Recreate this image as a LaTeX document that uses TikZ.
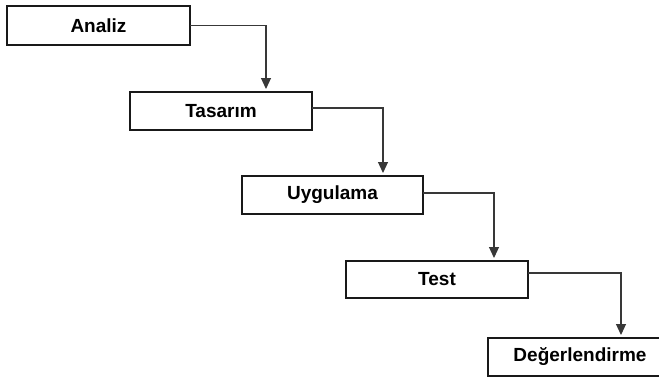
\documentclass[tikz,border=0pt]{standalone}
\usepackage{fontspec}
\setmainfont{Liberation Sans}
\usetikzlibrary{arrows.meta}
\begin{document}
\begin{tikzpicture}[x=1pt,y=-1pt,
  phase/.style={draw=black!90,line width=1.3pt,rectangle,inner sep=0pt,outer sep=0pt,
    minimum width=182pt,minimum height=38pt,fill=white,
    font=\fontsize{19}{22}\selectfont\bfseries},
  conn/.style={draw=black!78,line width=1.1pt,-{Triangle[length=11pt,width=10pt]},shorten >=3pt}]
  \useasboundingbox (0,0) rectangle (659,378);
  % phases of the process
  \node[phase,minimum width=183pt,minimum height=39pt] (an) at (98.5,25.5) {Analiz};
  \node[phase] (ta) at (221,111) {Tasarım};
  \node[phase,minimum width=181pt] (uy) at (332.5,195) {Uygulama};
  \node[phase,minimum height=37pt] (te) at (437,279.5) {Test};
  \node[phase,minimum width=184pt] (de) at (580,357) {Değerlendirme};
  % bends of the connectors
  \coordinate (k1) at (266,25.5);
  \coordinate (k2) at (383,108);
  \coordinate (k3) at (494,193);
  \coordinate (k4) at (621,273);
  \draw[conn] (an.east |- k1) -| (k1 |- ta.north);
  \draw[conn] (ta.east |- k2) -| (k2 |- uy.north);
  \draw[conn] (uy.east |- k3) -| (k3 |- te.north);
  \draw[conn] (te.east |- k4) -| (k4 |- de.north);
\end{tikzpicture}
\end{document}
